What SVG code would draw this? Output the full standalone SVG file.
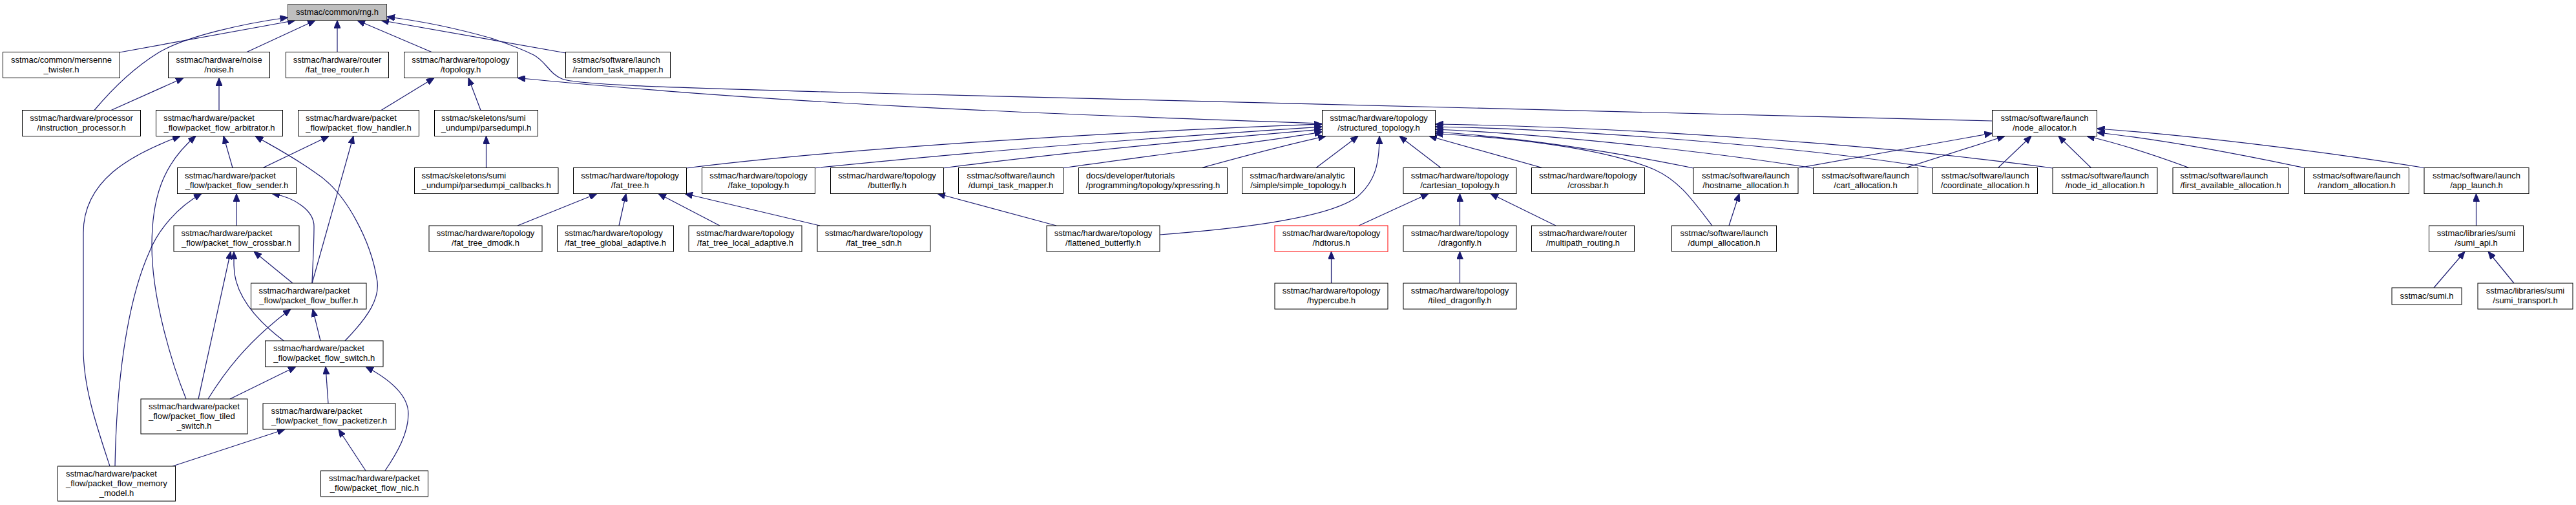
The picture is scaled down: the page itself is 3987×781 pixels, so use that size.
<svg xmlns="http://www.w3.org/2000/svg" width="3987" height="781" viewBox="0 0 3987 781">
<style>
.n rect{fill:#fff;stroke:#000;stroke-width:1}
.root rect{fill:#bfbfbf;stroke:#404040}
.red rect{stroke:#ff0000}
text{font-family:"Liberation Sans",Arial,sans-serif;font-size:13px;fill:#000}
.c{text-anchor:middle}
.e path{fill:none;stroke:#191970;stroke-width:1.2;marker-end:url(#a)}
</style>
<defs>
<marker id="a" markerUnits="userSpaceOnUse" markerWidth="12" markerHeight="10" refX="12" refY="5" orient="auto"><path d="M0,0 L12,5 L0,10 z" fill="#191970" stroke="#191970" stroke-width="1"/></marker>
</defs>
<rect width="3987" height="781" fill="#fff"/>
<g id="edges" class="e">
<path d="M185,81 L457,31.5"/>
<path d="M146,170.5 C180,130 215,100 246,81 C290,55 380,36 445.5,27"/>
<path d="M382,80.5 L488,31.5"/>
<path d="M522,80.5 L522,31.5"/>
<path d="M668,80.5 L553,31.5"/>
<path d="M876,82 L590,31.5"/>
<path d="M3083.5,187 L1330,143.5 C1000,135 890,130 870,122 C850,114 845,95 826,85 C800,72 780,66 760,59 C700,42 640,31 599,26"/>
<path d="M2046.5,191 C1600,176 1200,160 801,120.5"/>
<path d="M590,170.5 L672,120.5"/>
<path d="M744,170.5 L725,120.5"/>
<path d="M172,170.5 L284,120.5"/>
<path d="M339,170.5 L339,120.5"/>
<path d="M170,721 C150,660 129,600 129,540 L129,360 C129,280 200,240 279,210.5"/>
<path d="M288,617 C265,560 235,460 235,380 C235,310 250,255 303,210.5"/>
<path d="M178,721 C180,600 195,470 231,390 C245,355 275,320 312,299.5"/>
<path d="M360,259.5 L346,210.5"/>
<path d="M534,527 C570,490 590,460 583,430 C575,380 540,300 488,267 C450,240 420,225 395,210.5"/>
<path d="M407,259.5 L509,210.5"/>
<path d="M483,438 L547,210.5"/>
<path d="M366,349 L366,299.5"/>
<path d="M483,438 C484,410 486,380 486,350 C486,325 455,305 421,299.5"/>
<path d="M307,617 L357,389"/>
<path d="M439,527 C390,490 362,450 362,410 L362,389"/>
<path d="M453,438 L393,389"/>
<path d="M322,617 C345,580 380,530 450,478"/>
<path d="M496,527 L484,478"/>
<path d="M356,617 L458,567"/>
<path d="M508,624 L504,567"/>
<path d="M596,728 C615,700 632,670 632,640 C632,610 600,585 566,567"/>
<path d="M267,721 L441,664"/>
<path d="M566,728 L524,664"/>
<path d="M752.5,259.5 L752.5,210.5"/>
<path d="M801,349 L924,299.5"/>
<path d="M958,349 L969,299.5"/>
<path d="M1114,349 L1019,299.5"/>
<path d="M1269,349 L1060,299.5"/>
<path d="M1062,260 C1300,230 1700,205 2046.5,192"/>
<path d="M1260,260 C1500,235 1800,212 2046.5,196"/>
<path d="M1459,260 C1650,235 1880,214 2046.5,200"/>
<path d="M1644,260 C1800,238 1950,220 2046.5,204"/>
<path d="M1860,259.5 C1930,240 2000,222 2052,210.5"/>
<path d="M2037,259.5 L2102,210.5"/>
<path d="M1795,363 C1900,355 2050,340 2100,305 C2130,280 2135,250 2135,210.5"/>
<path d="M2230,259.5 L2166,210.5"/>
<path d="M2387,259.5 L2212,210.5"/>
<path d="M2621,260 C2500,235 2350,212 2221.5,204"/>
<path d="M2650,349 C2620,310 2600,280 2560,262 C2480,228 2330,212 2221.5,207"/>
<path d="M2806,260 C2650,235 2400,208 2221.5,200"/>
<path d="M2992,260 C2800,228 2450,200 2221.5,196"/>
<path d="M3177,260 C2900,222 2500,196 2221.5,192"/>
<path d="M2782,260 L3083.5,206"/>
<path d="M2948,260 L3103,210.5"/>
<path d="M3092,260 L3144,210.5"/>
<path d="M3237,260 L3186,210.5"/>
<path d="M3388,259.5 C3330,238 3280,222 3230,210.5"/>
<path d="M3566,259.5 C3450,235 3340,215 3245.5,205"/>
<path d="M3752,259.5 C3600,235 3400,210 3245.5,199"/>
<path d="M3832.5,349 L3832.5,299.5"/>
<path d="M3767,445 L3815,389"/>
<path d="M3891,438 L3851,389"/>
<path d="M2676,349 L2692,299.5"/>
<path d="M1635,349 L1451,299.5"/>
<path d="M2103,349 L2211,299.5"/>
<path d="M2259.5,349 L2259.5,299.5"/>
<path d="M2408,349 L2307,299.5"/>
<path d="M2060.5,438 L2060.5,389"/>
<path d="M2259.5,438 L2259.5,389"/>
</g>
<g id="n_rng" class="n root"><rect x="445.5" y="6.5" width="153" height="25"/><text class="c" x="522" y="22.5">sstmac/common/rng.h</text></g>
<g id="n_mersenne" class="n"><rect x="4.5" y="80.5" width="181" height="40"/><text class="c" x="95" y="96.5">sstmac/common/mersenne</text><text class="c" x="95" y="111.5">_twister.h</text></g>
<g id="n_noise" class="n"><rect x="260.5" y="80.5" width="157" height="40"/><text class="c" x="339" y="96.5">sstmac/hardware/noise</text><text class="c" x="339" y="111.5">/noise.h</text></g>
<g id="n_fat_tree_router" class="n"><rect x="442.5" y="80.5" width="159" height="40"/><text class="c" x="522" y="96.5">sstmac/hardware/router</text><text class="c" x="522" y="111.5">/fat_tree_router.h</text></g>
<g id="n_topology" class="n"><rect x="625.5" y="80.5" width="175" height="40"/><text class="c" x="713" y="96.5">sstmac/hardware/topology</text><text class="c" x="713" y="111.5">/topology.h</text></g>
<g id="n_random_task_mapper" class="n"><rect x="875.5" y="80.5" width="162" height="40"/><text x="886" y="96.5">sstmac/software/launch</text><text class="c" x="956.5" y="111.5">/random_task_mapper.h</text></g>
<g id="n_instruction_processor" class="n"><rect x="34.5" y="170.5" width="183" height="40"/><text class="c" x="126" y="186.5">sstmac/hardware/processor</text><text class="c" x="126" y="201.5">/instruction_processor.h</text></g>
<g id="n_arbitrator" class="n"><rect x="241.5" y="170.5" width="196" height="40"/><text x="253" y="186.5">sstmac/hardware/packet</text><text class="c" x="339.5" y="201.5">_flow/packet_flow_arbitrator.h</text></g>
<g id="n_handler" class="n"><rect x="461.5" y="170.5" width="187" height="40"/><text x="473" y="186.5">sstmac/hardware/packet</text><text class="c" x="555" y="201.5">_flow/packet_flow_handler.h</text></g>
<g id="n_parsedumpi" class="n"><rect x="672.5" y="170.5" width="160" height="40"/><text x="683" y="186.5">sstmac/skeletons/sumi</text><text class="c" x="752.5" y="201.5">_undumpi/parsedumpi.h</text></g>
<g id="n_structured_topology" class="n"><rect x="2046.5" y="170.5" width="175" height="40"/><text class="c" x="2134" y="186.5">sstmac/hardware/topology</text><text class="c" x="2134" y="201.5">/structured_topology.h</text></g>
<g id="n_node_allocator" class="n"><rect x="3083.5" y="170.5" width="162" height="40"/><text class="c" x="3164.5" y="186.5">sstmac/software/launch</text><text class="c" x="3164.5" y="201.5">/node_allocator.h</text></g>
<g id="n_sender" class="n"><rect x="274.5" y="259.5" width="184" height="40"/><text x="286" y="275.5">sstmac/hardware/packet</text><text class="c" x="366.5" y="290.5">_flow/packet_flow_sender.h</text></g>
<g id="n_parsedumpi_callbacks" class="n"><rect x="641.5" y="259.5" width="222.5" height="40"/><text x="652.5" y="275.5">sstmac/skeletons/sumi</text><text class="c" x="752.75" y="290.5">_undumpi/parsedumpi_callbacks.h</text></g>
<g id="n_fat_tree" class="n"><rect x="887.5" y="259.5" width="175" height="40"/><text class="c" x="975" y="275.5">sstmac/hardware/topology</text><text class="c" x="975" y="290.5">/fat_tree.h</text></g>
<g id="n_fake_topology" class="n"><rect x="1086.5" y="259.5" width="175" height="40"/><text class="c" x="1174" y="275.5">sstmac/hardware/topology</text><text class="c" x="1174" y="290.5">/fake_topology.h</text></g>
<g id="n_butterfly" class="n"><rect x="1285.5" y="259.5" width="175" height="40"/><text class="c" x="1373" y="275.5">sstmac/hardware/topology</text><text class="c" x="1373" y="290.5">/butterfly.h</text></g>
<g id="n_dumpi_task_mapper" class="n"><rect x="1483.5" y="259.5" width="162" height="40"/><text class="c" x="1564.5" y="275.5">sstmac/software/launch</text><text class="c" x="1564.5" y="290.5">/dumpi_task_mapper.h</text></g>
<g id="n_xpressring" class="n"><rect x="1669.5" y="259.5" width="230" height="40"/><text x="1681" y="275.5">docs/developer/tutorials</text><text class="c" x="1784.5" y="290.5">/programming/topology/xpressring.h</text></g>
<g id="n_simple_topology" class="n"><rect x="1922.5" y="259.5" width="174" height="40"/><text x="1934.5" y="275.5">sstmac/hardware/analytic</text><text class="c" x="2009.5" y="290.5">/simple/simple_topology.h</text></g>
<g id="n_cartesian_topology" class="n"><rect x="2172" y="259.5" width="175" height="40"/><text class="c" x="2259.5" y="275.5">sstmac/hardware/topology</text><text class="c" x="2259.5" y="290.5">/cartesian_topology.h</text></g>
<g id="n_crossbar" class="n"><rect x="2370.5" y="259.5" width="175" height="40"/><text class="c" x="2458" y="275.5">sstmac/hardware/topology</text><text class="c" x="2458" y="290.5">/crossbar.h</text></g>
<g id="n_hostname_allocation" class="n"><rect x="2621" y="259.5" width="162" height="40"/><text class="c" x="2702" y="275.5">sstmac/software/launch</text><text class="c" x="2702" y="290.5">/hostname_allocation.h</text></g>
<g id="n_cart_allocation" class="n"><rect x="2806.5" y="259.5" width="162" height="40"/><text class="c" x="2887.5" y="275.5">sstmac/software/launch</text><text class="c" x="2887.5" y="290.5">/cart_allocation.h</text></g>
<g id="n_coordinate_allocation" class="n"><rect x="2991.5" y="259.5" width="162" height="40"/><text class="c" x="3072.5" y="275.5">sstmac/software/launch</text><text class="c" x="3072.5" y="290.5">/coordinate_allocation.h</text></g>
<g id="n_node_id_allocation" class="n"><rect x="3177" y="259.5" width="162" height="40"/><text class="c" x="3258" y="275.5">sstmac/software/launch</text><text class="c" x="3258" y="290.5">/node_id_allocation.h</text></g>
<g id="n_first_available_allocation" class="n"><rect x="3363" y="259.5" width="179" height="40"/><text x="3374.5" y="275.5">sstmac/software/launch</text><text class="c" x="3452.5" y="290.5">/first_available_allocation.h</text></g>
<g id="n_random_allocation" class="n"><rect x="3566.5" y="259.5" width="162" height="40"/><text class="c" x="3647.5" y="275.5">sstmac/software/launch</text><text class="c" x="3647.5" y="290.5">/random_allocation.h</text></g>
<g id="n_app_launch" class="n"><rect x="3752" y="259.5" width="162" height="40"/><text class="c" x="3833" y="275.5">sstmac/software/launch</text><text class="c" x="3833" y="290.5">/app_launch.h</text></g>
<g id="n_packet_flow_crossbar" class="n"><rect x="269" y="349" width="194" height="40"/><text x="280.5" y="365">sstmac/hardware/packet</text><text class="c" x="366" y="380">_flow/packet_flow_crossbar.h</text></g>
<g id="n_fat_tree_dmodk" class="n"><rect x="664" y="349" width="175" height="40"/><text class="c" x="751.5" y="365">sstmac/hardware/topology</text><text class="c" x="751.5" y="380">/fat_tree_dmodk.h</text></g>
<g id="n_fat_tree_global_adaptive" class="n"><rect x="862.5" y="349" width="180" height="40"/><text x="874" y="365">sstmac/hardware/topology</text><text class="c" x="952.5" y="380">/fat_tree_global_adaptive.h</text></g>
<g id="n_fat_tree_local_adaptive" class="n"><rect x="1066" y="349" width="175" height="40"/><text class="c" x="1153.5" y="365">sstmac/hardware/topology</text><text class="c" x="1153.5" y="380">/fat_tree_local_adaptive.h</text></g>
<g id="n_fat_tree_sdn" class="n"><rect x="1265" y="349" width="175" height="40"/><text class="c" x="1352.5" y="365">sstmac/hardware/topology</text><text class="c" x="1352.5" y="380">/fat_tree_sdn.h</text></g>
<g id="n_flattened_butterfly" class="n"><rect x="1620" y="349" width="175" height="40"/><text class="c" x="1707.5" y="365">sstmac/hardware/topology</text><text class="c" x="1707.5" y="380">/flattened_butterfly.h</text></g>
<g id="n_hdtorus" class="n red"><rect x="1973" y="349" width="175" height="40"/><text class="c" x="2060.5" y="365">sstmac/hardware/topology</text><text class="c" x="2060.5" y="380">/hdtorus.h</text></g>
<g id="n_dragonfly" class="n"><rect x="2172" y="349" width="175" height="40"/><text class="c" x="2259.5" y="365">sstmac/hardware/topology</text><text class="c" x="2259.5" y="380">/dragonfly.h</text></g>
<g id="n_multipath_routing" class="n"><rect x="2370.5" y="349" width="159" height="40"/><text class="c" x="2450" y="365">sstmac/hardware/router</text><text class="c" x="2450" y="380">/multipath_routing.h</text></g>
<g id="n_dumpi_allocation" class="n"><rect x="2587.5" y="349" width="162" height="40"/><text class="c" x="2668.5" y="365">sstmac/software/launch</text><text class="c" x="2668.5" y="380">/dumpi_allocation.h</text></g>
<g id="n_sumi_api" class="n"><rect x="3759.5" y="349" width="146" height="40"/><text class="c" x="3832.5" y="365">sstmac/libraries/sumi</text><text class="c" x="3832.5" y="380">/sumi_api.h</text></g>
<g id="n_packet_flow_buffer" class="n"><rect x="388.5" y="438" width="178.5" height="40"/><text x="400.5" y="454">sstmac/hardware/packet</text><text class="c" x="477.75" y="469">_flow/packet_flow_buffer.h</text></g>
<g id="n_hypercube" class="n"><rect x="1973" y="438" width="175" height="40"/><text class="c" x="2060.5" y="454">sstmac/hardware/topology</text><text class="c" x="2060.5" y="469">/hypercube.h</text></g>
<g id="n_tiled_dragonfly" class="n"><rect x="2172" y="438" width="175" height="40"/><text class="c" x="2259.5" y="454">sstmac/hardware/topology</text><text class="c" x="2259.5" y="469">/tiled_dragonfly.h</text></g>
<g id="n_sumi" class="n"><rect x="3702" y="445" width="108" height="26"/><text class="c" x="3756" y="461.5">sstmac/sumi.h</text></g>
<g id="n_sumi_transport" class="n"><rect x="3835" y="438" width="147" height="40"/><text class="c" x="3908.5" y="454">sstmac/libraries/sumi</text><text class="c" x="3908.5" y="469">/sumi_transport.h</text></g>
<g id="n_packet_flow_switch" class="n"><rect x="410.5" y="527" width="182.5" height="40"/><text x="423" y="543">sstmac/hardware/packet</text><text class="c" x="501.75" y="558">_flow/packet_flow_switch.h</text></g>
<g id="n_packet_flow_tiled_switch" class="n"><rect x="218" y="617" width="165" height="54"/><text x="230" y="633">sstmac/hardware/packet</text><text x="230" y="648">_flow/packet_flow_tiled</text><text class="c" x="300.5" y="663">_switch.h</text></g>
<g id="n_packet_flow_packetizer" class="n"><rect x="407" y="624" width="205" height="40"/><text x="419.5" y="640">sstmac/hardware/packet</text><text class="c" x="509.5" y="655">_flow/packet_flow_packetizer.h</text></g>
<g id="n_packet_flow_memory_model" class="n"><rect x="89.5" y="721" width="182" height="54"/><text x="102" y="737">sstmac/hardware/packet</text><text x="102" y="752">_flow/packet_flow_memory</text><text class="c" x="180.5" y="767">_model.h</text></g>
<g id="n_packet_flow_nic" class="n"><rect x="496.5" y="728" width="166" height="40"/><text class="c" x="579.5" y="744">sstmac/hardware/packet</text><text class="c" x="579.5" y="759">_flow/packet_flow_nic.h</text></g>
</svg>
